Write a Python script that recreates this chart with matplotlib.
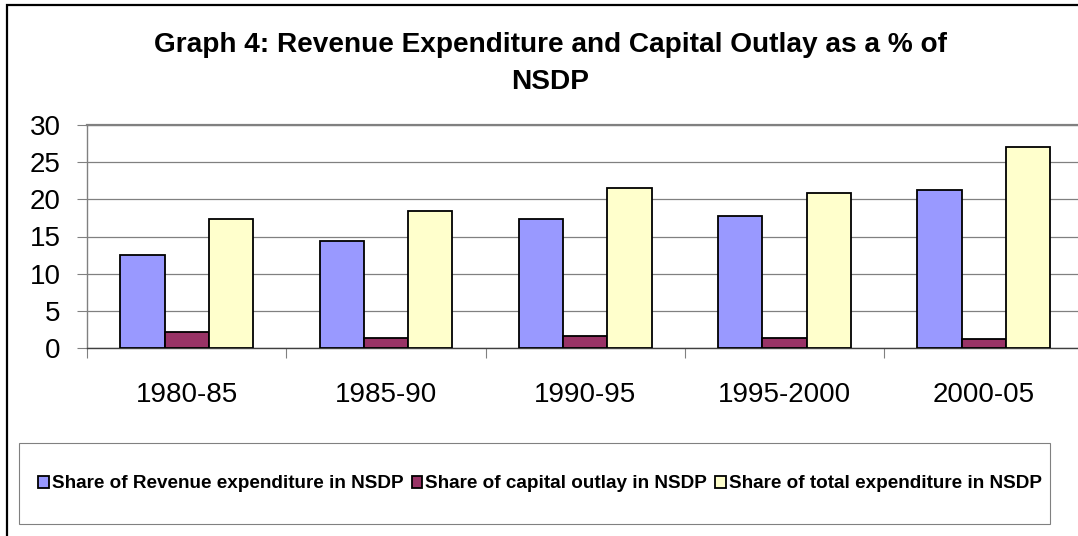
import matplotlib
matplotlib.use("Agg")
import matplotlib.pyplot as plt
from matplotlib.patches import Rectangle
import numpy as np

plt.rcParams['font.family'] = ['Liberation Sans', 'DejaVu Sans']

periods = ["1980-85", "1985-90", "1990-95", "1995-2000", "2000-05"]
revenue = [12.5, 14.35, 17.35, 17.7, 21.3]
capital = [2.2, 1.4, 1.7, 1.35, 1.25]
total = [17.4, 18.45, 21.55, 20.9, 27.0]
series_names = ["Share of Revenue expenditure in NSDP",
                "Share of capital outlay in NSDP",
                "Share of total expenditure in NSDP"]
colors = ["#9999FF", "#993366", "#FFFFCC"]

W, H = 1078, 536
fig = plt.figure(figsize=(W / 100, H / 100), dpi=100)

# plot area in pixels
left, right, top, bottom = 87, 1083.5, 124.7, 348.3
ax = fig.add_axes([left / W, 1 - bottom / H, (right - left) / W, (bottom - top) / H])

x = np.arange(len(periods))
bw = 0.222
handles = []
for i, (vals, c) in enumerate(zip([revenue, capital, total], colors)):
    b = ax.bar(x + (i - 1) * bw, vals, bw, color=c, edgecolor="black",
               linewidth=1.3, label=series_names[i], zorder=3)
    handles.append(b)

ax.set_xlim(-0.5, len(periods) - 0.5)
ax.set_ylim(0, 30)
ax.set_yticks(range(0, 31, 5))
ax.yaxis.grid(True, color="#808080", linewidth=0.9, zorder=0)
ax.set_axisbelow(True)

ax.set_xticks(x)
ax.set_xticklabels(periods, fontsize=20)
ax.set_xticks(np.arange(-0.5, len(periods), 1.0), minor=True)
ax.tick_params(axis="x", which="major", length=0, pad=24)
ax.tick_params(axis="x", which="minor", length=7, width=0.8, color="#808080")
ax.tick_params(axis="y", labelsize=20, length=7, width=0.8, color="#808080", pad=12)

for s in ["top", "left"]:
    ax.spines[s].set_color("#808080")
ax.spines["top"].set_linewidth(1.6)
ax.spines["left"].set_linewidth(1.0)
ax.spines["bottom"].set_color("#404040")
ax.spines["bottom"].set_linewidth(1.0)
ax.spines["right"].set_visible(False)

fig.text(550 / W, 1 - 45 / H, "Graph 4: Revenue Expenditure and Capital Outlay as a % of",
         ha="center", va="center", fontsize=20.2, fontweight="bold")
fig.text(550 / W, 1 - 82 / H, "NSDP",
         ha="center", va="center", fontsize=20.2, fontweight="bold")

# legend box
fig.patches.append(Rectangle((19 / W, 1 - 524 / H), (1050 - 19) / W, (524 - 443) / H,
                             transform=fig.transFigure, fill=False,
                             edgecolor="#808080", linewidth=0.8))
leg = fig.legend(handles=handles, loc="center", bbox_to_anchor=(540 / W, 1 - 484 / H),
                 ncol=3, frameon=False, prop={"weight": "bold", "size": 13.6},
                 handlelength=0.55, handleheight=0.55, handletextpad=0.15,
                 columnspacing=0.45)

# outer chart border
fig.patches.append(Rectangle((7 / W, -0.05), 1.1, 1 - 5 / H + 0.05,
                             transform=fig.transFigure, fill=False,
                             edgecolor="black", linewidth=1.6))

fig.savefig("out.png", dpi=100)
